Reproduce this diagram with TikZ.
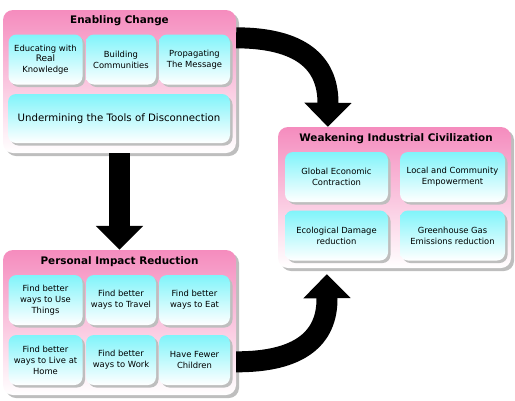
\documentclass[tikz,border=0pt]{standalone}
\usepackage{fontspec}
\setmainfont{DejaVu Sans}
\usepackage{xcolor}
\usepackage{tikz}
\usetikzlibrary{arrows.meta,positioning,calc,shadows}
\definecolor{boxpink}{RGB}{245,140,190}
\definecolor{boxcyan}{RGB}{128,244,250}
\definecolor{shadowgray}{RGB}{190,190,190}

\begin{document}
\begin{tikzpicture}[
        x=1pt, y=-1pt,
        outer_box/.style={
            rectangle,
            rounded corners=10pt,
            top color=boxpink,
            bottom color=white,
            minimum width=233pt,
            inner sep=0pt,
            drop shadow={shadow xshift=3pt, shadow yshift=-3pt,
                fill=shadowgray, opacity=1}
        },
        inner_box/.style={
            rectangle,
            rounded corners=8pt,
            top color=boxcyan,
            bottom color=white,
            minimum height=50pt,
            inner sep=1pt,
            align=center,
            font=\fontsize{8.4}{11}\selectfont,
            drop shadow={shadow xshift=2.5pt, shadow yshift=-2.5pt,
                fill=shadowgray, opacity=1}
        },
        title_text/.style={
            font=\fontsize{10.4}{12}\selectfont\bfseries,
            inner sep=0pt
        },
        big_arrow/.style={
            draw=black,
            line width=21pt,
            -{Triangle[width=46pt,length=24pt]}
        }
    ]
        \useasboundingbox (0,0) rectangle (515,400);

        % Outer boxes
        \node[outer_box, minimum height=143pt] (enab) at (119.5,81.5) {};
        \node[outer_box, minimum height=145pt] (pers) at (119.5,322.5) {};
        \node[outer_box, minimum height=141pt] (weak) at (394.5,197.5) {};

        % Titles
        \node[title_text] (t1) at (119.5,21) {Enabling Change};
        \node[title_text] (t2) at (119.5,262) {Personal Impact Reduction};
        \node[title_text] (t3) at (396,139) {Weakening Industrial Civilization};

        % Enabling Change
        \node[inner_box, minimum width=74pt] (e1) at (45.5,59.5) {Educating with\\[-1pt]\fontsize{9}{11}\selectfont Real\\Knowledge};
        \node[inner_box, minimum width=70pt] (e2) at (121,59.5) {Building\\Communities};
        \node[inner_box, minimum width=71pt] (e3) at (194.5,59.5) {Propagating\\The Message};
        \node[inner_box, minimum width=222pt, minimum height=49pt,
            font=\fontsize{10.2}{12}\selectfont] (e4) at (119,118.5)
            {Undermining the Tools of Disconnection};

        % Personal Impact Reduction
        \node[inner_box, minimum width=74pt] (p1) at (45.5,300) {Find better\\ways to Use\\Things};
        \node[inner_box, minimum width=70pt] (p2) at (121,300) {Find better\\ways to Travel};
        \node[inner_box, minimum width=71pt] (p3) at (194.5,300) {Find better\\ways to Eat};
        \node[inner_box, minimum width=74pt] (p4) at (45.5,360) {Find better\\ways to Live at\\Home};
        \node[inner_box, minimum width=70pt] (p5) at (121,360) {Find better\\ways to Work};
        \node[inner_box, minimum width=71pt] (p6) at (194.5,360) {Have Fewer\\Children};

        % Weakening Industrial Civilization
        \node[inner_box, minimum width=103pt] (w1) at (336.5,177) {Global Economic\\Contraction};
        \node[inner_box, minimum width=105pt] (w2) at (452.5,177) {Local and Community\\Empowerment};
        \node[inner_box, minimum width=103pt] (w3) at (336.5,235.5) {Ecological Damage\\reduction};
        \node[inner_box, minimum width=105pt] (w4) at (452.5,235.5) {Greenhouse Gas\\Emissions reduction};

        % Arrows
        \coordinate (a1) at ($(enab.north east)+(0,28)$);
        \coordinate (a2) at ($(weak.north west)+(50,0)$);
        \coordinate (a3) at ($(pers.north east)+(0,112)$);
        \coordinate (a4) at ($(weak.south west)+(49,6)$);
        \draw[big_arrow] (enab.south) -- (pers.north);
        \draw[big_arrow] (a1) .. controls (300,38) and (328,62) .. (328,103) -- (a2);
        \draw[big_arrow] (a3) .. controls (300,362) and (327,338) .. (327,299) -- (a4);
    \end{tikzpicture}
\end{document}
